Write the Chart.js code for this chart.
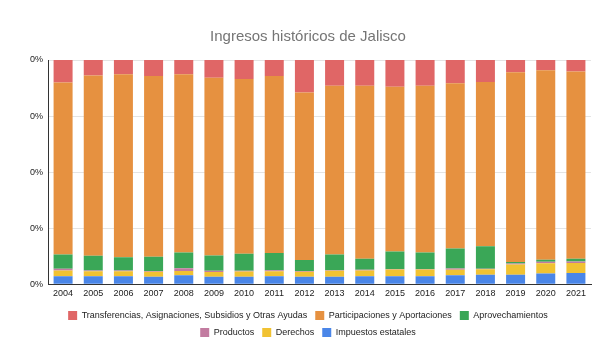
<!DOCTYPE html>
<html>
<head>
<meta charset="utf-8">
<script src="https://cdn.jsdelivr.net/npm/chart.js@4/dist/chart.umd.min.js"></script>
<style>
  body { margin: 0; background: #fff; }
</style>
</head>
<body>
<canvas id="mycanvas" width="608" height="360"></canvas>
<script>
// años
var years = ['2004','2005','2006','2007','2008','2009','2010','2011','2012',
             '2013','2014','2015','2016','2017','2018','2019','2020','2021'];

// participacion de cada rubro (% del ingreso total)
var impuestos        = [3.6, 3.6, 3.6, 3.3, 4.0, 3.3, 3.3, 3.6, 3.3, 3.3, 3.6, 3.6, 3.6, 4.0, 4.2, 4.2, 4.8, 5.0];
var derechos         = [2.5, 2.2, 2.2, 2.2, 1.9, 2.1, 2.4, 2.2, 2.2, 2.7, 2.5, 3.0, 3.0, 2.4, 2.5, 4.6, 4.5, 4.5];
var productos        = [0.8, 0.3, 0.3, 0.4, 1.2, 0.6, 0.3, 0.4, 0.4, 0.2, 0.3, 0.2, 0.2, 0.6, 0.2, 0.4, 0.7, 0.6];
var aprovechamientos = [6.3, 6.6, 5.9, 6.3, 7.0, 6.8, 7.6, 7.7, 4.9, 7.1, 5.0, 7.8, 7.3, 8.9, 10.0, 0.7, 0.9, 1.2];
var participaciones  = [76.8, 80.4, 81.6, 80.7, 79.5, 79.3, 77.9, 79.0, 74.7, 75.2, 77.1, 73.5, 74.4, 73.7, 73.3, 84.6, 84.5, 83.6];
var transferencias   = [10.0, 6.9, 6.4, 7.1, 6.4, 7.9, 8.5, 7.1, 14.5, 11.5, 11.5, 11.9, 11.5, 10.4, 9.8, 5.5, 4.6, 5.1];

// etiquetas del eje y tal como aparecen
var yTickLabels = ['0%', '0%', '0%', '0%', '0%'];

var font = 'Liberation Sans, Arial, sans-serif';

var chartdata = {
    labels: years,
    datasets: [
        { label: 'Impuestos estatales', backgroundColor: '#4a86e8', data: impuestos },
        { label: 'Derechos', backgroundColor: '#f1c232', data: derechos },
        { label: 'Productos', backgroundColor: '#c27ba0', data: productos },
        { label: 'Aprovechamientos', backgroundColor: '#3aa757', data: aprovechamientos },
        { label: 'Participaciones y Aportaciones', backgroundColor: '#e69140', data: participaciones },
        { label: 'Transferencias, Asignaciones, Subsidios y Otras Ayudas', backgroundColor: '#e06666', data: transferencias }
    ]
};

var ctx = document.getElementById('mycanvas');
var bargraph = new Chart(ctx, {
    type: 'bar',
    data: chartdata,
    options: {
        responsive: false,
        animation: false,
        datasets: {
            bar: { categoryPercentage: 1, barPercentage: 0.63, borderWidth: 0 }
        },
        layout: { padding: { left: 25, right: 17, top: 0, bottom: 13 } },
        scales: {
            x: {
                stacked: true,
                grid: { display: false, drawTicks: false },
                border: { display: true, color: '#333333', width: 1 },
                ticks: { color: '#222222', padding: 4, font: { family: font, size: 9 } }
            },
            y: {
                stacked: true,
                min: 0,
                max: 100,
                grid: { color: '#e4e4e4', drawTicks: false },
                border: { display: true, color: '#333333', width: 1 },
                ticks: {
                    stepSize: 25,
                    padding: 5,
                    color: '#222222',
                    font: { family: font, size: 9 },
                    callback: function(value, index) { return yTickLabels[index]; }
                }
            }
        },
        plugins: {
            title: {
                display: true,
                text: 'Ingresos históricos de Jalisco',
                color: '#757575',
                font: { family: font, size: 15, weight: 'normal' },
                padding: { top: 28, bottom: 14 }
            },
            legend: {
                position: 'bottom',
                reverse: true,
                labels: {
                    boxWidth: 9,
                    boxHeight: 9,
                    padding: 8,
                    color: '#222222',
                    font: { family: font, size: 9 }
                }
            },
            tooltip: { enabled: false }
        }
    }
});

// la leyenda parte en dos renglones (3 + 3) como en el original
var lg = bargraph.legend;
var fitRows = lg._fitRows;
lg._fitRows = function(a, b, c, d) {
    var mw = this.maxWidth;
    this.maxWidth = 520;
    var h = fitRows.call(this, a, b, c, d);
    this.maxWidth = mw;
    return h;
};
bargraph.update();
</script>
</body>
</html>
